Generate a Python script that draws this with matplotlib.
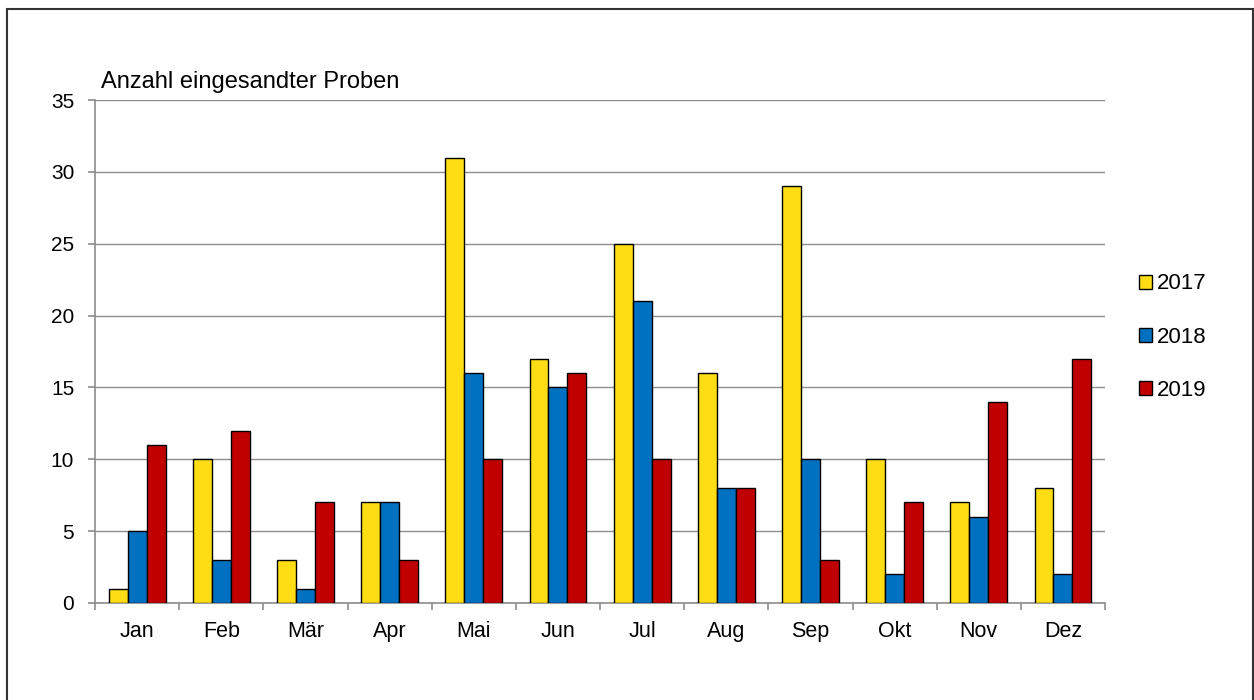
import numpy as np
import matplotlib.pyplot as plt
from matplotlib.patches import Rectangle

plt.rcParams['font.family'] = ['Liberation Sans', 'DejaVu Sans']

monate = ["Jan", "Feb", "Mär", "Apr", "Mai", "Jun", "Jul", "Aug", "Sep", "Okt", "Nov", "Dez"]
jahre = ["2017", "2018", "2019"]
w2017 = [1, 10, 3, 7, 31, 17, 25, 16, 29, 10, 7, 8]
w2018 = [5, 3, 1, 7, 16, 15, 21, 8, 10, 2, 6, 2]
w2019 = [11, 12, 7, 3, 10, 16, 10, 8, 3, 7, 14, 17]
farben = ["#FFDD15", "#0070C0", "#C00000"]

fig = plt.figure(figsize=(12.54, 7), dpi=100)
ax = fig.add_axes([0.0758, 0.1386, 0.8054, 0.7184])

x = np.arange(len(monate))
bw = 0.225
for i, (werte, farbe, jahr) in enumerate(zip([w2017, w2018, w2019], farben, jahre)):
    ax.bar(x + (i - 1) * bw, werte, bw, color=farbe, edgecolor="black",
           linewidth=1.0, label=jahr, zorder=3)

ax.set_xlim(-0.5, len(monate) - 0.5)
ax.set_ylim(0, 35)
ax.set_yticks(range(0, 36, 5))
ax.yaxis.grid(True, color="#8c8c8c", linewidth=1.0, zorder=0)

ax.set_xticks(x)
ax.set_xticklabels(monate, fontsize=15.5)
ax.set_xticks(np.arange(-0.5, len(monate), 1), minor=True)
ax.tick_params(axis="x", which="major", length=0, pad=13)
ax.tick_params(axis="x", which="minor", length=5, color="#8c8c8c", width=1.2)
ax.tick_params(axis="y", length=5, color="#8c8c8c", width=1.2, labelsize=15, pad=10)

for s in ["top", "right"]:
    ax.spines[s].set_visible(False)
for s in ["left", "bottom"]:
    ax.spines[s].set_color("#8c8c8c")
    ax.spines[s].set_linewidth(1.2)

fig.text(101 / 1254, 1 - 88 / 700, "Anzahl eingesandter Proben",
         fontsize=17, ha="left", va="baseline")

leg = fig.legend(loc="upper left", bbox_to_anchor=(1139 / 1254, 0.6093), frameon=False,
                 fontsize=16, handlelength=0.59, handleheight=0.59,
                 handletextpad=0.22, labelspacing=1.45, borderpad=0, borderaxespad=0)

# Rahmen um die gesamte Grafik
fig.patches.append(Rectangle((7 / 1254, -0.01), 1245.5 / 1254, 1.01 - 8.5 / 700,
                             transform=fig.transFigure,
                             fill=False, edgecolor="#333333", linewidth=1.5))

fig.savefig("out.png", dpi=100)
